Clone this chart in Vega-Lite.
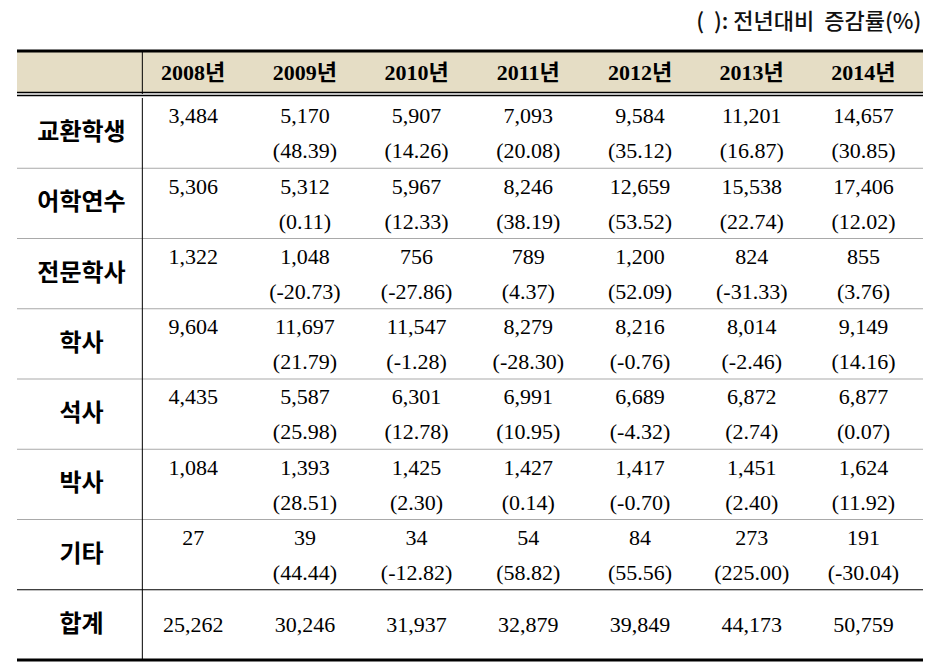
{
  "$schema": "https://vega.github.io/schema/vega-lite/v6.json",
  "background": "white",
  "padding": {"left": 14, "top": 10, "right": 8, "bottom": 6},
  "title": {"text": "(\u00a0\u00a0): 전년대비\u00a0\u00a0증감률(%)", "anchor": "end", "font": "Noto Sans CJK KR", "fontSize": 22, "fontWeight": 500, "color": "#111111", "offset": 16, "dx": -4},
  "config": {"view": {"stroke": null}, "concat": {"spacing": 0}},
  "spacing": 0,
  "datasets": {
    "years": [{"col": "2008년"}, {"col": "2009년"}, {"col": "2010년"}, {"col": "2011년"}, {"col": "2012년"}, {"col": "2013년"}, {"col": "2014년"}],
    "rows": [{"row": "교환학생"}, {"row": "어학연수"}, {"row": "전문학사"}, {"row": "학사"}, {"row": "석사"}, {"row": "박사"}, {"row": "기타"}, {"row": "합계"}],
    "cells": [
      {"row": "교환학생", "col": "2008년", "value": 3484, "pct": null},
      {"row": "교환학생", "col": "2009년", "value": 5170, "pct": 48.39},
      {"row": "교환학생", "col": "2010년", "value": 5907, "pct": 14.26},
      {"row": "교환학생", "col": "2011년", "value": 7093, "pct": 20.08},
      {"row": "교환학생", "col": "2012년", "value": 9584, "pct": 35.12},
      {"row": "교환학생", "col": "2013년", "value": 11201, "pct": 16.87},
      {"row": "교환학생", "col": "2014년", "value": 14657, "pct": 30.85},
      {"row": "어학연수", "col": "2008년", "value": 5306, "pct": null},
      {"row": "어학연수", "col": "2009년", "value": 5312, "pct": 0.11},
      {"row": "어학연수", "col": "2010년", "value": 5967, "pct": 12.33},
      {"row": "어학연수", "col": "2011년", "value": 8246, "pct": 38.19},
      {"row": "어학연수", "col": "2012년", "value": 12659, "pct": 53.52},
      {"row": "어학연수", "col": "2013년", "value": 15538, "pct": 22.74},
      {"row": "어학연수", "col": "2014년", "value": 17406, "pct": 12.02},
      {"row": "전문학사", "col": "2008년", "value": 1322, "pct": null},
      {"row": "전문학사", "col": "2009년", "value": 1048, "pct": -20.73},
      {"row": "전문학사", "col": "2010년", "value": 756, "pct": -27.86},
      {"row": "전문학사", "col": "2011년", "value": 789, "pct": 4.37},
      {"row": "전문학사", "col": "2012년", "value": 1200, "pct": 52.09},
      {"row": "전문학사", "col": "2013년", "value": 824, "pct": -31.33},
      {"row": "전문학사", "col": "2014년", "value": 855, "pct": 3.76},
      {"row": "학사", "col": "2008년", "value": 9604, "pct": null},
      {"row": "학사", "col": "2009년", "value": 11697, "pct": 21.79},
      {"row": "학사", "col": "2010년", "value": 11547, "pct": -1.28},
      {"row": "학사", "col": "2011년", "value": 8279, "pct": -28.30},
      {"row": "학사", "col": "2012년", "value": 8216, "pct": -0.76},
      {"row": "학사", "col": "2013년", "value": 8014, "pct": -2.46},
      {"row": "학사", "col": "2014년", "value": 9149, "pct": 14.16},
      {"row": "석사", "col": "2008년", "value": 4435, "pct": null},
      {"row": "석사", "col": "2009년", "value": 5587, "pct": 25.98},
      {"row": "석사", "col": "2010년", "value": 6301, "pct": 12.78},
      {"row": "석사", "col": "2011년", "value": 6991, "pct": 10.95},
      {"row": "석사", "col": "2012년", "value": 6689, "pct": -4.32},
      {"row": "석사", "col": "2013년", "value": 6872, "pct": 2.74},
      {"row": "석사", "col": "2014년", "value": 6877, "pct": 0.07},
      {"row": "박사", "col": "2008년", "value": 1084, "pct": null},
      {"row": "박사", "col": "2009년", "value": 1393, "pct": 28.51},
      {"row": "박사", "col": "2010년", "value": 1425, "pct": 2.30},
      {"row": "박사", "col": "2011년", "value": 1427, "pct": 0.14},
      {"row": "박사", "col": "2012년", "value": 1417, "pct": -0.70},
      {"row": "박사", "col": "2013년", "value": 1451, "pct": 2.40},
      {"row": "박사", "col": "2014년", "value": 1624, "pct": 11.92},
      {"row": "기타", "col": "2008년", "value": 27, "pct": null},
      {"row": "기타", "col": "2009년", "value": 39, "pct": 44.44},
      {"row": "기타", "col": "2010년", "value": 34, "pct": -12.82},
      {"row": "기타", "col": "2011년", "value": 54, "pct": 58.82},
      {"row": "기타", "col": "2012년", "value": 84, "pct": 55.56},
      {"row": "기타", "col": "2013년", "value": 273, "pct": 225.00},
      {"row": "기타", "col": "2014년", "value": 191, "pct": -30.04},
      {"row": "합계", "col": "2008년", "value": 25262, "pct": null},
      {"row": "합계", "col": "2009년", "value": 30246, "pct": null},
      {"row": "합계", "col": "2010년", "value": 31937, "pct": null},
      {"row": "합계", "col": "2011년", "value": 32879, "pct": null},
      {"row": "합계", "col": "2012년", "value": 39849, "pct": null},
      {"row": "합계", "col": "2013년", "value": 44173, "pct": null},
      {"row": "합계", "col": "2014년", "value": 50759, "pct": null}
    ]
  },
  "vconcat": [
    {
      "width": 906,
      "height": 43,
      "view": {"fill": "#e5ddc5", "stroke": null},
      "layer": [
        {
          "data": {"name": "years"},
          "mark": {"type": "text", "font": "Liberation Serif, Noto Sans CJK KR", "fontSize": 22, "fontWeight": "bold", "baseline": "middle", "color": "#000000"},
          "encoding": {
            "x": {"field": "col", "type": "nominal", "axis": null, "scale": {"type": "band", "domain": ["구분", "2008년", "2009년", "2010년", "2011년", "2012년", "2013년", "2014년"], "paddingInner": 0, "paddingOuter": 0.055, "align": 0.7}},
            "y": {"datum": 0.5, "type": "quantitative", "axis": null, "scale": {"domain": [0, 1]}},
            "text": {"field": "col"}
          }
        },
        {
          "data": {"values": [{}]},
          "mark": {"type": "rule", "color": "#000000", "strokeWidth": 3},
          "encoding": {"y": {"datum": 1, "type": "quantitative"}}
        },
        {
          "data": {"values": [{}]},
          "mark": {"type": "rule", "color": "#000000", "strokeWidth": 4.5},
          "encoding": {"y": {"datum": 0, "type": "quantitative"}}
        },
        {
          "data": {"values": [{}]},
          "mark": {"type": "rule", "color": "#ffffff", "strokeWidth": 1.3},
          "encoding": {"y": {"datum": 0, "type": "quantitative"}}
        },
        {
          "data": {"values": [{}]},
          "mark": {"type": "rule", "color": "#000000", "strokeWidth": 1},
          "encoding": {"x": {"datum": "2008년", "type": "nominal", "bandPosition": 0.045}}
        }
      ]
    },
    {
      "width": 906,
      "height": 562,
      "layer": [
        {
          "data": {"name": "rows"},
          "mark": {"type": "rule"},
          "encoding": {
            "y": {"field": "row", "type": "nominal", "bandPosition": 1, "axis": null, "scale": {"type": "band", "domain": ["교환학생", "어학연수", "전문학사", "학사", "석사", "박사", "기타", "합계"], "paddingInner": 0, "paddingOuter": 0}},
            "color": {"condition": {"test": "datum.row === '기타' || datum.row === '합계'", "value": "#000000"}, "value": "#a9a9a9"},
            "strokeWidth": {"condition": {"test": "datum.row === '합계'", "value": 3}, "value": 1}
          }
        },
        {
          "data": {"name": "rows"},
          "mark": {"type": "text", "font": "Noto Sans CJK KR", "fontSize": 24, "fontWeight": "bold", "baseline": "middle", "color": "#000000"},
          "encoding": {
            "x": {"datum": "구분", "type": "nominal", "axis": null, "scale": {"type": "band", "domain": ["구분", "2008년", "2009년", "2010년", "2011년", "2012년", "2013년", "2014년"], "paddingInner": 0, "paddingOuter": 0.055, "align": 0.7}},
            "y": {"field": "row", "type": "nominal"},
            "text": {"field": "row"}
          }
        },
        {
          "data": {"name": "cells"},
          "transform": [{"filter": "datum.row !== '합계'"}],
          "mark": {"type": "text", "font": "Liberation Serif", "fontSize": 22, "baseline": "middle", "color": "#000000"},
          "encoding": {
            "x": {"field": "col", "type": "nominal"},
            "y": {"field": "row", "type": "nominal", "bandPosition": 0.26},
            "text": {"field": "value", "type": "quantitative", "format": ","}
          }
        },
        {
          "data": {"name": "cells"},
          "transform": [{"filter": "datum.pct !== null"}, {"calculate": "'(' + replace(format(datum.pct, '.2f'), '\u2212', '-') + ')'", "as": "pctLabel"}],
          "mark": {"type": "text", "font": "Liberation Serif", "fontSize": 22, "baseline": "middle", "color": "#000000"},
          "encoding": {
            "x": {"field": "col", "type": "nominal"},
            "y": {"field": "row", "type": "nominal", "bandPosition": 0.76},
            "text": {"field": "pctLabel"}
          }
        },
        {
          "data": {"name": "cells"},
          "transform": [{"filter": "datum.row === '합계'"}],
          "mark": {"type": "text", "font": "Liberation Serif", "fontSize": 22, "baseline": "middle", "color": "#000000"},
          "encoding": {
            "x": {"field": "col", "type": "nominal"},
            "y": {"field": "row", "type": "nominal"},
            "text": {"field": "value", "type": "quantitative", "format": ","}
          }
        },
        {
          "data": {"values": [{}]},
          "mark": {"type": "rule", "color": "#000000", "strokeWidth": 1},
          "encoding": {"x": {"datum": "2008년", "type": "nominal", "bandPosition": 0.045}}
        }
      ]
    }
  ]
}
